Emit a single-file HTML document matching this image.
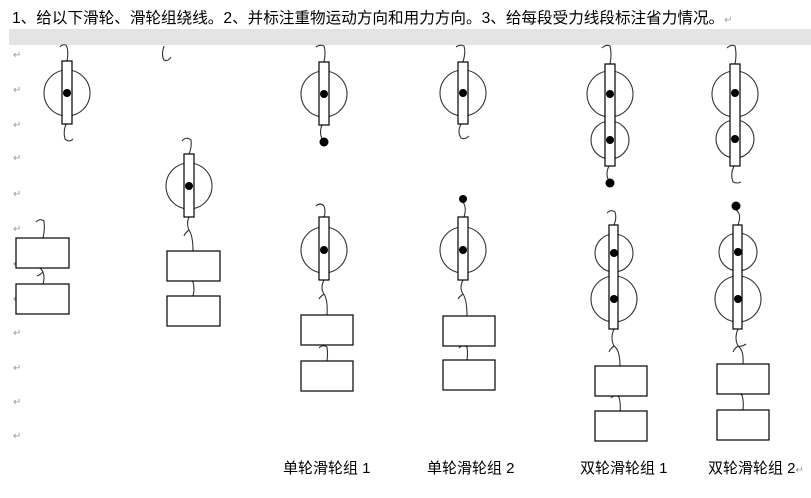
<!DOCTYPE html>
<html><head><meta charset="utf-8"><style>
body{margin:0;background:#fff;width:811px;height:498px;overflow:hidden}
svg{display:block}
text{font-family:"Liberation Sans","Noto Sans CJK SC",sans-serif}
</style></head><body>
<svg width="811" height="498" xmlns="http://www.w3.org/2000/svg">
<text x="12" y="23" font-size="15.6" fill="#000">1、给以下滑轮、滑轮组绕线。2、并标注重物运动方向和用力方向。3、给每段受力线段标注省力情况。<tspan fill="#999" font-size="10">↵</tspan></text>
<rect x="9" y="29" width="802" height="16" fill="#e4e4e4"/>
<g fill="#999" font-size="10">
<text x="13" y="58">↵</text><text x="13" y="93">↵</text><text x="13" y="128">↵</text><text x="13" y="161">↵</text><text x="13" y="197">↵</text><text x="13" y="232">↵</text><text x="13" y="267">↵</text><text x="13" y="302">↵</text><text x="13" y="336">↵</text><text x="13" y="371">↵</text><text x="13" y="405">↵</text><text x="13" y="439">↵</text>
</g>
<g fill="none" stroke="#333" stroke-width="1.1">
<circle cx="67" cy="93" r="23"/>
<path d="M60 47 Q62 44 66 45 Q69 50 67 61"/>
<path d="M66 124 Q63 132 65 139 Q69 143 73 139"/>
<path d="M164 46 Q161 55 164 60 Q168 62 171 57"/>
<circle cx="189" cy="186" r="23"/>
<path d="M182 141 Q186 136 191 140 Q192 147 189 154"/>
<path d="M189 217 Q186 224 189 230 Q185 233 184 236 M189 230 Q193 236 193 251"/>
<circle cx="324" cy="94" r="23"/>
<path d="M316 47 Q320 44 324 46 Q326 52 324 62"/>
<path d="M322 125 Q319 132 322 139"/>
<circle cx="324" cy="250" r="23"/>
<path d="M316 206 Q320 202 324 206 Q326 212 324 217"/>
<path d="M324 280 Q320 288 324 294 Q320 297 319 299 M324 294 Q328 300 327 315"/>
<path d="M319 348 Q323 344 327 347 Q328 354 327 361"/>
<circle cx="463" cy="93" r="23"/>
<path d="M456 47 Q460 44 464 46 Q466 52 463 62"/>
<path d="M461 124 Q457 132 461 138 Q465 140 469 136"/>
<circle cx="463" cy="250" r="23"/>
<path d="M463 202 Q467 208 464 217"/>
<path d="M463 280 Q459 288 463 294 Q459 297 458 299 M463 294 Q467 300 467 316"/>
<path d="M459 348 Q463 344 467 347 Q468 354 467 360"/>
<circle cx="610" cy="94" r="23"/>
<circle cx="610" cy="140" r="19"/>
<path d="M602 48 Q606 44 610 46 Q612 54 610 64"/>
<path d="M609 166 Q605 174 609 181"/>
<circle cx="614" cy="253" r="19"/>
<circle cx="614" cy="299" r="23"/>
<path d="M607 213 Q611 209 615 212 Q617 218 614 225"/>
<path d="M614 329 Q610 338 614 346 Q610 349 609 352 M614 346 Q620 350 620 366"/>
<path d="M611 398 Q615 394 619 397 Q621 404 620 412"/>
<circle cx="735" cy="94" r="23"/>
<circle cx="735" cy="139" r="19"/>
<path d="M727 48 Q731 44 735 46 Q737 54 735 64"/>
<path d="M734 166 Q730 174 733 182 Q737 184 741 182"/>
<circle cx="738" cy="252" r="19"/>
<circle cx="738" cy="299" r="23"/>
<path d="M736 210 Q742 214 738 225"/>
<path d="M738 329 Q734 338 738 346 Q734 349 733 352 M738 346 Q744 350 743 364 M738 346 Q742 347 746 344"/>
<path d="M734 394 Q738 392 742 395 Q744 402 743 410"/>
<path d="M36 222 Q40 218 44 221 Q45 230 43 238"/>
<path d="M36 268 Q40 266 43 272 Q40 275 37 276 M43 272 Q45 278 43 284"/>
<path d="M186 281 Q190 278 193 282 Q195 289 193 296"/>
</g>
<g fill="#fff" stroke="#000" stroke-width="1.2">
<rect x="62" y="61" width="10" height="63"/>
<rect x="184" y="154" width="10" height="63"/>
<rect x="319" y="62" width="10" height="63"/>
<rect x="319" y="217" width="10" height="63"/>
<rect x="458" y="62" width="10" height="62"/>
<rect x="458" y="217" width="10" height="63"/>
<rect x="605" y="64" width="10" height="102"/>
<rect x="609" y="225" width="9" height="104"/>
<rect x="730" y="64" width="10" height="102"/>
<rect x="733" y="225" width="9" height="104"/>
<rect x="16" y="238" width="53" height="30"/>
<rect x="16" y="284" width="53" height="30"/>
<rect x="167" y="251" width="53" height="30"/>
<rect x="167" y="296" width="53" height="30"/>
<rect x="301" y="315" width="52" height="30"/>
<rect x="301" y="361" width="52" height="30"/>
<rect x="443" y="316" width="52" height="30"/>
<rect x="443" y="360" width="52" height="30"/>
<rect x="595" y="366" width="52" height="30"/>
<rect x="595" y="411" width="52" height="30"/>
<rect x="717" y="364" width="52" height="30"/>
<rect x="717" y="410" width="52" height="30"/>
</g>
<g fill="#000">
<circle cx="67" cy="93" r="4"/><circle cx="189" cy="186" r="4"/>
<circle cx="324" cy="94" r="4"/><circle cx="324" cy="142" r="4.5"/>
<circle cx="324" cy="250" r="4"/>
<circle cx="463" cy="93" r="4"/><circle cx="463" cy="199" r="4"/><circle cx="463" cy="250" r="4"/>
<circle cx="610" cy="94" r="4"/><circle cx="610" cy="140" r="4"/><circle cx="610" cy="183" r="4.5"/>
<circle cx="614" cy="253" r="4"/><circle cx="614" cy="299" r="4"/>
<circle cx="735" cy="93" r="4"/><circle cx="735" cy="139" r="4"/><circle cx="736" cy="206" r="4.5"/>
<circle cx="738" cy="252" r="4"/><circle cx="738" cy="299" r="4"/>
</g>
<g font-size="15" fill="#000">
<text x="283" y="473">单轮滑轮组 1</text>
<text x="427" y="473">单轮滑轮组 2</text>
<text x="580" y="473">双轮滑轮组 1</text>
<text x="708" y="473">双轮滑轮组 2<tspan fill="#999" font-size="10">↵</tspan></text>
</g>
</svg>
</body></html>
